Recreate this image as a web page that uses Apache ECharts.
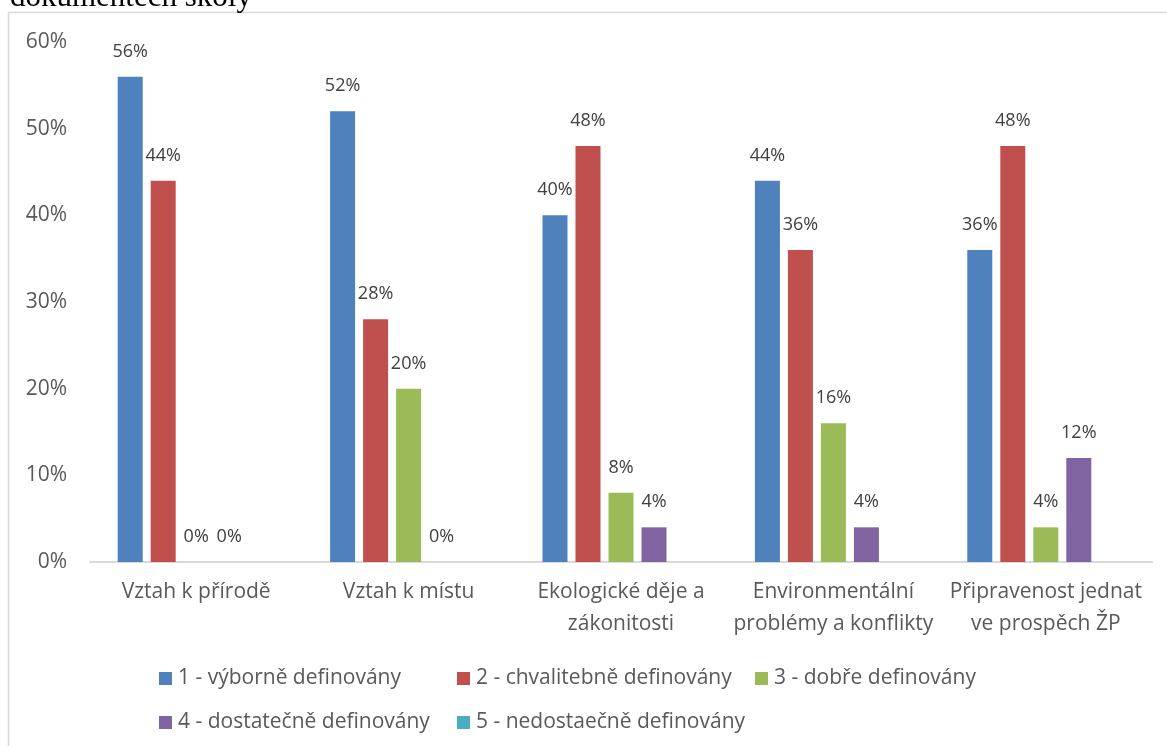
<!DOCTYPE html>
<html>
<head>
<meta charset="utf-8">
<script src="https://cdn.jsdelivr.net/npm/echarts@6/dist/echarts.min.js"></script>
<style>
  html, body { margin: 0; padding: 0; background: #ffffff; }
  #chart { width: 1167px; height: 746px; }
</style>
</head>
<body>
<div id="chart"></div>
<script>
// Categories (areas of the school documents) and share of each rating level, in %
const categories = [
  'Vztah k přírodě',
  'Vztah k místu',
  'Ekologické děje a\nzákonitosti',
  'Environmentální\nproblémy a konflikty',
  'Připravenost jednat\nve prospěch ŽP'
];
const seriesNames = [
  '1 - výborně definovány',
  '2 - chvalitebně definovány',
  '3 - dobře definovány',
  '4 - dostatečně definovány',
  '5 - nedostaečně definovány'
];
const vyborne      = [56, 52, 40, 44, 36];
const chvalitebne  = [44, 28, 48, 36, 48];
const dobre        = [0, 20, 8, 16, 4];
const dostatecne   = [0, 0, 4, 4, 12];
const nedostatecne = [null, null, null, null, null];
const yTicks = { min: 0, max: 60, interval: 10 };
const titleText = 'dokumentech školy';

const colors = ['#4F81BD', '#C0504D', '#9BBB59', '#8064A2', '#4BACC6'];
const seriesValues = [vyborne, chvalitebne, dobre, dostatecne, nedostatecne];
const FONT = '"Open Sans"';

const series = seriesValues.map((vals, i) => ({
  name: seriesNames[i],
  type: 'bar',
  data: vals,
  barWidth: 25,
  barGap: '32%',
  itemStyle: { color: colors[i] },
  label: {
    show: true,
    position: 'top',
    distance: 16,
    formatter: p => (p.value == null ? '' : p.value + '%'),
    color: '#404040',
    fontFamily: FONT,
    fontSize: 18
  }
}));

// legend laid out as a grid: three columns, two rows
const legendPos = [
  { left: 159, top: 668 },
  { left: 457, top: 668 },
  { left: 755, top: 668 },
  { left: 159, top: 712 },
  { left: 457, top: 712 }
];
const legends = seriesNames.map((n, i) => ({
  data: [n],
  left: legendPos[i].left,
  top: legendPos[i].top,
  padding: 0,
  itemWidth: 13,
  itemHeight: 13,
  icon: 'rect',
  selectedMode: false,
  textStyle: { color: '#595959', fontFamily: FONT, fontSize: 21, padding: [0, 0, 0, 1] }
}));

const chart = echarts.init(document.getElementById('chart'), null, { renderer: 'canvas' });
chart.setOption({
  animation: false,
  backgroundColor: '#ffffff',
  color: colors,
  graphic: [
    {
      type: 'rect',
      shape: { x: 8.5, y: 12.5, width: 1200, height: 800 },
      style: { fill: 'none', stroke: '#d9d9d9', lineWidth: 1.5 },
      silent: true
    },
    {
      type: 'text',
      left: 10,
      top: -18,
      style: {
        text: titleText,
        font: '31px "Liberation Serif"',
        fill: '#000000'
      },
      silent: true
    }
  ],
  legend: legends,
  grid: { left: 90, right: 15, top: 42, bottom: 184, containLabel: false },
  xAxis: {
    type: 'category',
    data: categories,
    axisLine: { show: true, lineStyle: { color: '#d9d9d9', width: 2 } },
    axisTick: { show: false },
    axisLabel: {
      interval: 0,
      color: '#595959',
      fontFamily: FONT,
      fontSize: 21,
      lineHeight: 32,
      margin: 14
    },
    splitLine: { show: false }
  },
  yAxis: {
    type: 'value',
    min: yTicks.min,
    max: yTicks.max,
    interval: yTicks.interval,
    axisLine: { show: false },
    axisTick: { show: false },
    splitLine: { show: false },
    axisLabel: {
      formatter: '{value}%',
      color: '#595959',
      fontFamily: FONT,
      fontSize: 21,
      margin: 23
    }
  },
  series: series
});
</script>
</body>
</html>
